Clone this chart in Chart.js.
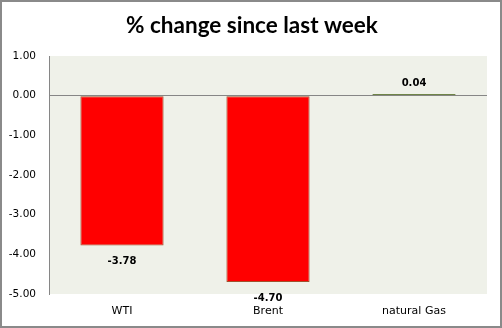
<!DOCTYPE html>
<html>
<head>
<meta charset="utf-8">
<script src="https://cdn.jsdelivr.net/npm/chart.js@4/dist/chart.umd.min.js"></script>
<style>
  html, body { margin: 0; padding: 0; background: #ffffff; }
  #wrap { position: relative; width: 502px; height: 328px; }
</style>
</head>
<body>
<div id="wrap"><canvas id="c" width="502" height="328"></canvas></div>
<script>
// Weekly percentage change per commodity
const categories = ['WTI', 'Brent', 'natural Gas'];
const changes = [-3.78, -4.70, 0.04];
const barColors = ['#FF0000', '#FF0000', '#77904A'];
const barBorders = ['#A0522D', '#A0522D', '#6F8548'];
const yTicks = [1, 0, -1, -2, -3, -4, -5];
const titleText = '% change since last week';

// Frame, title and plot-area fill
const decor = {
  id: 'decor',
  beforeDraw(chart) {
    const { ctx, chartArea: a, width, height } = chart;
    ctx.save();
    ctx.fillStyle = '#ffffff';
    ctx.fillRect(0, 0, width, height);
    ctx.fillStyle = '#EFF1E9';
    ctx.fillRect(a.left, a.top, a.right - a.left, a.bottom - a.top);
    ctx.fillStyle = '#000000';
    ctx.font = 'bold 22.5px Lato';
    ctx.textAlign = 'center';
    ctx.textBaseline = 'alphabetic';
    ctx.fillText(titleText, width / 2 + 1, 33);
    ctx.restore();
  },
  afterDraw(chart) {
    const { ctx, width, height } = chart;
    ctx.save();
    ctx.strokeStyle = '#8A8A8A';
    ctx.lineWidth = 2;
    ctx.strokeRect(1, 1, width - 2, height - 2);
    ctx.restore();
  }
};

// Value labels next to the end of each bar
const valueLabels = {
  id: 'valueLabels',
  afterDatasetsDraw(chart) {
    const { ctx } = chart;
    const meta = chart.getDatasetMeta(0);
    ctx.save();
    ctx.fillStyle = '#000000';
    ctx.font = 'bold 10px "DejaVu Sans"';
    ctx.textAlign = 'center';
    ctx.textBaseline = 'middle';
    meta.data.forEach((bar, i) => {
      const v = changes[i];
      const y = v < 0 ? bar.y + 16 : bar.y - 11;
      ctx.fillText(v.toFixed(2), bar.x, y);
    });
    ctx.restore();
  }
};

new Chart(document.getElementById('c'), {
  type: 'bar',
  data: {
    labels: categories,
    datasets: [{
      data: changes,
      backgroundColor: barColors,
      borderColor: barBorders,
      borderWidth: 1,
      borderSkipped: false,
      barPercentage: 0.57,
      categoryPercentage: 1.0
    }]
  },
  options: {
    responsive: false,
    animation: false,
    layout: { padding: { top: 56, right: 15, bottom: 0, left: 0 } },
    plugins: {
      legend: { display: false },
      title: { display: false },
      tooltip: { enabled: false }
    },
    scales: {
      x: {
        grid: { display: false, drawTicks: false },
        border: { display: false },
        ticks: {
          color: '#000000',
          font: { family: '"DejaVu Sans"', size: 11 },
          padding: 11,
          maxRotation: 0
        },
        afterFit(scale) { scale.height = 34; }
      },
      y: {
        min: -5,
        max: 1,
        afterBuildTicks(scale) { scale.ticks = yTicks.map(v => ({ value: v })); },
        grid: {
          drawTicks: false,
          lineWidth: 1,
          color: (c) => (c.tick && c.tick.value === 0 ? '#868686' : 'rgba(0,0,0,0)')
        },
        border: { display: true, color: '#868686', width: 1 },
        ticks: {
          color: '#000000',
          font: { family: '"DejaVu Sans"', size: 10.5 },
          padding: 13,
          callback: (v) => Number(v).toFixed(2)
        },
        afterFit(scale) { scale.width = 49; }
      }
    }
  },
  plugins: [decor, valueLabels]
});
</script>
</body>
</html>
